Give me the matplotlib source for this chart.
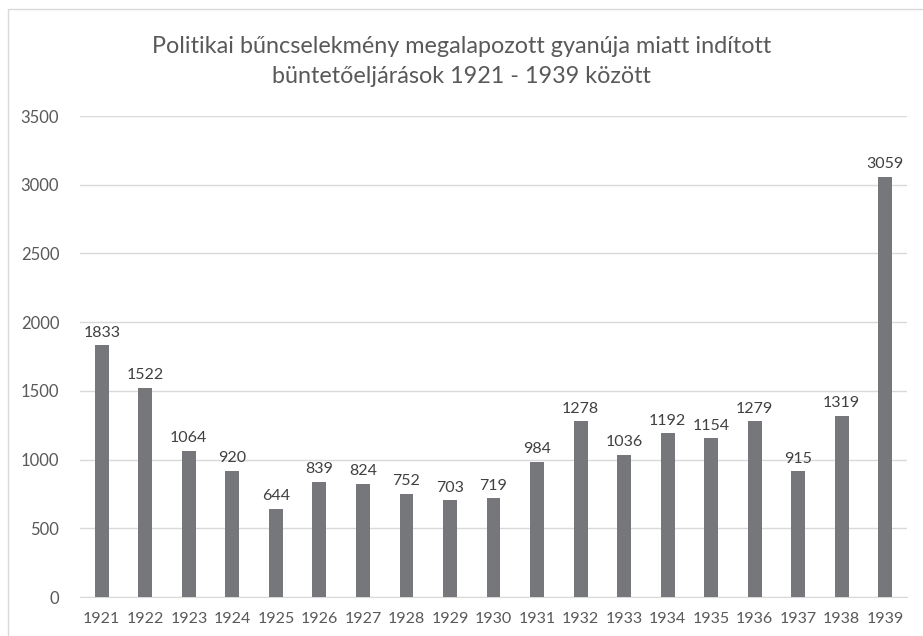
import matplotlib.pyplot as plt
from matplotlib.patches import Rectangle

plt.rcParams['font.family'] = ['Lato', 'DejaVu Sans']

years = ['1921', '1922', '1923', '1924', '1925', '1926', '1927', '1928', '1929', '1930',
         '1931', '1932', '1933', '1934', '1935', '1936', '1937', '1938', '1939']
cases = [1833, 1522, 1064, 920, 644, 839, 824, 752, 703, 719,
         984, 1278, 1036, 1192, 1154, 1279, 915, 1319, 3059]

title = 'Politikai bűncselekmény megalapozott gyanúja miatt indított\nbüntetőeljárások 1921 - 1939 között'

txt = '#595959'
grid = '#d9d9d9'
bar_c = '#76777b'

fig = plt.figure(figsize=(9.23, 6.36), dpi=100)
ax = fig.add_axes([0.0867, 0.0613, 0.896, 0.7563])

x = range(len(years))
bars = ax.bar(x, cases, width=0.32, color=bar_c, zorder=3)
for xi, v in zip(x, cases):
    ax.annotate(str(v), (xi, v), xytext=(0, 4), textcoords='offset points',
                ha='center', va='bottom', fontsize=11.5, color='#404040')

ax.set_ylim(0, 3500)
ax.set_xlim(-0.5, len(years) - 0.5)
ax.set_yticks(range(0, 3501, 500))
ax.set_xticks(list(x))
ax.set_xticklabels(years)
ax.tick_params(length=0, colors=txt)
ax.tick_params(axis='y', pad=15, labelsize=12)
ax.tick_params(axis='x', pad=11, labelsize=11.5)
ax.grid(axis='y', color=grid, lw=1, zorder=0)
for s in ['top', 'right', 'left']:
    ax.spines[s].set_visible(False)
ax.spines['bottom'].set_color(grid)

fig.text(0.5, 0.903, title, ha='center', va='center', fontsize=16.8, color=txt, linespacing=1.5)

# chart frame
fig.patches.append(Rectangle((0.009, -0.01), 1.2, 0.996, transform=fig.transFigure,
                             fill=False, ec=grid, lw=1))

fig.savefig('out.png', dpi=100)
